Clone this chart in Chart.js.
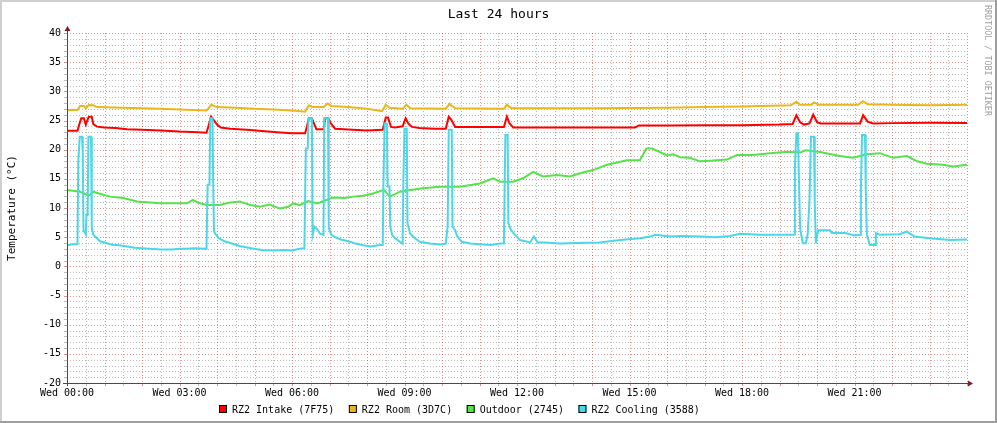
<!DOCTYPE html>
<html>
<head>
<meta charset="utf-8">
<title>Last 24 hours</title>
<script src="https://cdn.jsdelivr.net/npm/chart.js@4.4.1/dist/chart.umd.min.js"></script>
<style>
html, body { margin: 0; padding: 0; background: #fff; }
#wrap { width: 997px; height: 423px; }
</style>
</head>
<body>
<div id="wrap"><canvas id="temp_chart" width="997" height="423"></canvas></div>
<script>
// data: [hour of day, degC]
const chartTitle = 'Last 24 hours';
const yTitle = 'Temperature (°C)';
const seriesNames = ['RZ2 Intake (7F75)', 'RZ2 Room (3D7C)', 'Outdoor (2745)', 'RZ2 Cooling (3588)'];
const seriesColors = ['#FF0000', '#E9B71D', '#55E349', '#4BD7E7'];
const xTickHours = [0, 3, 6, 9, 12, 15, 18, 21];
const xTickLabels = ['Wed 00:00', 'Wed 03:00', 'Wed 06:00', 'Wed 09:00', 'Wed 12:00', 'Wed 15:00', 'Wed 18:00', 'Wed 21:00'];
const yMin = -20, yMax = 40;

const intakeData = [[0,23.25],[0.28,23.25],[0.32,24.2],[0.38,25.4],[0.45,25.4],[0.5,24.3],[0.58,25.65],[0.66,25.65],[0.7,24.4],[0.8,23.95],
  [1.0,23.8],[1.3,23.7],[1.6,23.5],[2.0,23.4],[2.5,23.3],[3.0,23.1],[3.5,23.0],[3.72,22.9],[3.78,24.2],[3.84,25.65],[3.9,25.2],[4.0,24.3],
  [4.1,23.8],[4.35,23.6],[4.8,23.4],[5.2,23.2],[5.6,23.0],[6.0,22.8],[6.35,22.8],[6.4,24.0],[6.45,25.4],[6.53,25.4],[6.58,24.6],[6.65,23.5],
  [6.85,23.5],[6.88,25.4],[6.97,25.4],[7.02,24.6],[7.15,23.6],[7.5,23.45],[8.0,23.3],[8.42,23.4],[8.5,25.5],[8.56,25.5],[8.64,23.9],[8.75,23.8],
  [8.95,24.0],[9.03,25.4],[9.1,24.5],[9.2,23.9],[9.4,23.7],[9.8,23.6],[10.1,23.6],[10.18,25.65],[10.24,25.2],[10.35,23.9],[10.6,23.9],[11.0,23.9],
  [11.5,23.9],[11.65,23.9],[11.73,25.65],[11.8,24.5],[11.9,23.8],[12.5,23.8],[13.5,23.8],[14.5,23.8],[15.15,23.8],[15.25,24.15],[16.0,24.15],
  [17.0,24.2],[18.0,24.2],[19.0,24.3],[19.35,24.4],[19.45,25.9],[19.55,24.7],[19.65,24.3],[19.8,24.5],[19.9,26.0],[20.0,24.7],[20.1,24.5],
  [21.0,24.5],[21.15,24.5],[21.23,25.9],[21.35,24.8],[21.5,24.5],[22.0,24.55],[23.0,24.6],[24.0,24.55]];

const roomData = [[0,26.8],[0.28,26.8],[0.35,27.5],[0.45,27.5],[0.5,27.1],[0.58,27.65],[0.7,27.6],[0.8,27.3],[1.5,27.2],[2.5,27.0],[3.0,26.9],
  [3.72,26.7],[3.85,27.7],[4.0,27.3],[4.5,27.2],[5.0,27.0],[5.5,26.9],[6.0,26.7],[6.35,26.5],[6.45,27.6],[6.55,27.3],[6.85,27.3],[6.95,27.9],
  [7.05,27.5],[7.5,27.3],[8.0,27.0],[8.4,26.6],[8.5,27.7],[8.6,27.2],[8.95,27.0],[9.05,27.7],[9.15,27.1],[10.1,27.0],[10.2,27.85],[10.35,27.1],
  [11.65,27.0],[11.73,27.7],[11.85,27.1],[13,27.1],[14,27.1],[16,27.2],[17,27.3],[18,27.4],[19.3,27.6],[19.45,28.2],[19.55,27.7],[19.85,27.7],
  [19.92,28.1],[20.05,27.7],[21.1,27.7],[21.22,28.3],[21.35,27.8],[22,27.7],[23,27.6],[24,27.7]];

const outdoorData = [[0,13.1],[0.35,12.8],[0.48,12.4],[0.6,12.2],[0.69,12.8],[0.85,12.5],[1.15,11.95],[1.5,11.7],[1.87,11.1],[2.48,10.8],
  [3.2,10.8],[3.36,11.4],[3.5,10.9],[3.73,10.5],[4.08,10.5],[4.3,10.9],[4.61,11.1],[4.9,10.5],[5.15,10.2],[5.4,10.6],[5.68,9.9],[5.9,10.2],
  [6.03,10.8],[6.2,10.5],[6.43,11.2],[6.67,10.8],[7.09,11.8],[7.4,11.7],[7.63,11.95],[7.9,12.1],[8.16,12.5],[8.45,13.1],[8.61,11.95],[8.88,12.8],
  [9.15,13.1],[9.49,13.4],[9.95,13.65],[10.48,13.65],[11.01,14.2],[11.36,15.1],[11.55,14.5],[11.89,14.5],[12.16,15.1],[12.43,16.2],[12.69,15.4],
  [13.07,15.65],[13.41,15.4],[13.68,15.95],[14.03,16.5],[14.4,17.4],[14.93,18.2],[15.28,18.2],[15.45,20.2],[15.6,20.2],[15.81,19.6],[16.0,19.0],
  [16.16,19.2],[16.35,18.7],[16.61,18.6],[16.88,18.0],[17.15,18.1],[17.6,18.3],[17.87,19.1],[18.29,19.1],[18.75,19.4],[19.2,19.65],[19.55,19.5],
  [19.7,19.9],[20.08,19.6],[20.61,18.9],[20.96,18.6],[21.33,19.2],[21.68,19.4],[22.03,18.6],[22.4,18.9],[22.67,18.0],[22.93,17.6],[23.36,17.4],
  [23.63,17.1],[24,17.4]];

const coolingData = [[0,3.6],[0.15,3.8],[0.28,3.8],[0.3,18.0],[0.34,22.2],[0.4,22.2],[0.42,19.4],[0.44,6.2],[0.5,5.5],[0.52,8.8],[0.55,8.8],
  [0.57,22.2],[0.64,22.2],[0.66,6.6],[0.7,5.4],[0.8,4.8],[0.88,4.3],[1.05,4.0],[1.2,3.7],[1.4,3.6],[1.6,3.4],[1.8,3.2],[2.0,3.1],[2.2,3.0],
  [2.5,2.9],[2.8,2.9],[3.0,3.0],[3.2,3.0],[3.4,3.1],[3.72,3.0],[3.75,14],[3.8,14],[3.82,25.4],[3.88,25.4],[3.9,14],[3.92,6.0],[3.95,5.6],
  [4.05,4.8],[4.2,4.3],[4.35,4.0],[4.6,3.5],[4.9,3.1],[5.2,2.8],[5.5,2.7],[5.8,2.8],[6.0,2.7],[6.2,3.0],[6.33,3.1],[6.37,20.2],[6.42,20.2],
  [6.44,25.4],[6.53,25.4],[6.55,5.4],[6.6,6.8],[6.68,6.3],[6.75,5.6],[6.84,5.4],[6.86,25.4],[6.96,25.4],[6.98,6.6],[7.05,5.4],[7.15,5.0],
  [7.3,4.6],[7.5,4.3],[7.7,3.9],[7.9,3.6],[8.1,3.4],[8.3,3.6],[8.42,3.7],[8.44,15],[8.47,24.5],[8.53,24.5],[8.55,13.7],[8.6,13.7],[8.62,6.8],
  [8.67,5.4],[8.75,4.8],[8.88,4.2],[8.95,3.9],[8.97,14.9],[9.0,23.6],[9.06,23.6],[9.08,7.4],[9.15,5.6],[9.28,4.8],[9.41,4.2],[9.68,3.9],
  [9.95,3.75],[10.1,3.9],[10.15,6.8],[10.18,23.4],[10.26,23.4],[10.28,6.8],[10.35,6.2],[10.4,5.2],[10.53,4.2],[10.75,3.9],[11.0,3.8],[11.3,3.65],
  [11.55,3.9],[11.65,3.9],[11.67,13.5],[11.69,22.5],[11.75,22.5],[11.77,7.4],[11.84,6.2],[11.95,5.4],[12.08,4.5],[12.35,4.1],[12.45,5.1],
  [12.55,4.1],[12.75,4.1],[13.15,3.9],[13.6,4.0],[14.2,4.1],[14.75,4.5],[15.28,4.8],[15.55,5.1],[15.68,5.4],[16.08,5.1],[16.35,5.2],[16.88,5.1],
  [17.3,5.0],[17.68,5.2],[17.95,5.6],[18.48,5.4],[19.0,5.4],[19.4,5.4],[19.41,17.1],[19.45,22.8],[19.49,22.8],[19.51,17.1],[19.55,6.5],
  [19.62,3.95],[19.7,3.95],[19.75,5.4],[19.8,11.4],[19.84,22.2],[19.92,22.2],[19.94,11],[19.97,3.95],[20.03,6.2],[20.35,6.2],[20.4,5.7],
  [20.75,5.7],[21.0,5.3],[21.15,5.4],[21.17,13.1],[21.2,22.5],[21.28,22.5],[21.3,13.1],[21.33,5.4],[21.41,3.65],[21.55,3.65],[21.57,5.7],
  [21.68,5.4],[22.2,5.5],[22.4,5.95],[22.6,5.1],[23.0,4.8],[23.55,4.5],[24,4.6]];

document.addEventListener('DOMContentLoaded', function() {

var MONO = '"DejaVu Sans Mono", monospace';

function toPoints(arr) {
  return arr.map(function(p) { return { x: p[0], y: p[1] }; });
}

// rrdtool look: frame, dotted grid, arrows, title, legend, watermark
var rrdLook = {
  id: 'rrdLook',
  beforeDraw: function(chart) {
    var ctx = chart.ctx, w = chart.width, h = chart.height;
    ctx.save();
    ctx.fillStyle = '#ffffff';
    ctx.fillRect(0, 0, w, h);
    ctx.fillStyle = '#CFCFCF';
    ctx.fillRect(0, 0, w, 2);
    ctx.fillRect(0, 0, 2, h);
    ctx.fillStyle = '#9E9E9E';
    ctx.fillRect(0, h - 2, w, 2);
    ctx.fillRect(w - 2, 0, 2, h);
    ctx.restore();
  },
  beforeDatasetsDraw: function(chart) {
    var ctx = chart.ctx, a = chart.chartArea;
    var xs = chart.scales.x, ys = chart.scales.y;
    var minor = 'rgba(130,130,130,0.55)', major = 'rgba(180,40,40,0.5)';
    ctx.save();
    ctx.lineWidth = 1;
    ctx.setLineDash([1, 2]);
    // minor first then major
    [false, true].forEach(function(isMajor) {
      ctx.strokeStyle = isMajor ? major : minor;
      ctx.beginPath();
      for (var v = yMin; v <= yMax; v++) {
        if ((v % 5 === 0) !== isMajor) continue;
        var y = Math.round(ys.getPixelForValue(v)) + 0.5;
        ctx.moveTo(a.left, y); ctx.lineTo(a.right, y);
      }
      for (var hh = 0.5; hh <= 24; hh += 0.5) {
        if ((hh % 1 === 0) !== isMajor) continue;
        var x = Math.round(xs.getPixelForValue(hh)) + 0.5;
        ctx.moveTo(x, a.top); ctx.lineTo(x, a.bottom);
      }
      ctx.stroke();
    });
    ctx.setLineDash([]);
    // small ticks on the axes
    for (var t = 0.5; t <= 24; t += 0.5) {
      var tx = Math.round(xs.getPixelForValue(t)) + 0.5;
      ctx.strokeStyle = (t % 1 === 0) ? major : minor;
      ctx.beginPath(); ctx.moveTo(tx, a.bottom); ctx.lineTo(tx, a.bottom + 3); ctx.stroke();
    }
    for (var k = yMin; k <= yMax; k++) {
      var ty = Math.round(ys.getPixelForValue(k)) + 0.5;
      ctx.strokeStyle = (k % 5 === 0) ? major : minor;
      ctx.beginPath(); ctx.moveTo(a.left - 3, ty); ctx.lineTo(a.left, ty); ctx.stroke();
    }
    ctx.restore();
  },
  afterDatasetsDraw: function(chart) {
    var ctx = chart.ctx, a = chart.chartArea;
    var x0 = Math.round(a.left) + 0.5, y0 = Math.round(a.bottom) + 0.5;
    ctx.save();
    ctx.strokeStyle = '#4a4a4a';
    ctx.lineWidth = 1;
    ctx.beginPath();
    ctx.moveTo(x0, a.bottom + 3); ctx.lineTo(x0, a.top - 3);
    ctx.moveTo(a.left - 4, y0); ctx.lineTo(a.right + 2, y0);
    ctx.stroke();
    ctx.fillStyle = '#7F1F1F';
    ctx.beginPath();
    ctx.moveTo(x0 - 3, a.top - 2); ctx.lineTo(x0 + 3, a.top - 2); ctx.lineTo(x0, a.top - 7); ctx.closePath();
    ctx.fill();
    ctx.beginPath();
    ctx.moveTo(a.right + 1, y0 - 3); ctx.lineTo(a.right + 1, y0 + 3); ctx.lineTo(a.right + 6, y0); ctx.closePath();
    ctx.fill();
    ctx.restore();
  },
  afterDraw: function(chart) {
    var ctx = chart.ctx, a = chart.chartArea;
    ctx.save();
    ctx.fillStyle = '#000';
    // title
    ctx.font = '13px ' + MONO;
    ctx.textAlign = 'center';
    ctx.textBaseline = 'alphabetic';
    ctx.fillText(chartTitle, chart.width / 2, 18);
    // y axis title
    ctx.save();
    ctx.font = '11px ' + MONO;
    ctx.translate(15, (a.top + a.bottom) / 2);
    ctx.rotate(-Math.PI / 2);
    ctx.fillText(yTitle, 0, 0);
    ctx.restore();
    // watermark
    ctx.save();
    ctx.font = '8.4px ' + MONO;
    ctx.fillStyle = '#A0A0A0';
    ctx.textAlign = 'left';
    ctx.translate(985, 5);
    ctx.rotate(Math.PI / 2);
    ctx.fillText('RRDTOOL / TOBI OETIKER', 0, 0);
    ctx.restore();
    // legend
    ctx.font = '10px ' + MONO;
    ctx.textAlign = 'left';
    var lx = 219, ly = 405;
    for (var i = 0; i < seriesNames.length; i++) {
      ctx.fillStyle = seriesColors[i];
      ctx.fillRect(lx, ly, 8, 8);
      ctx.strokeStyle = '#000';
      ctx.lineWidth = 1;
      ctx.strokeRect(lx + 0.5, ly + 0.5, 7, 7);
      ctx.fillStyle = '#000';
      ctx.fillText(seriesNames[i], lx + 13, ly + 8);
      lx += 13 + ctx.measureText(seriesNames[i]).width + 14.5;
    }
    ctx.restore();
  }
};

var allData = [intakeData, roomData, outdoorData, coolingData];
var datasets = allData.map(function(d, i) {
  return {
    label: seriesNames[i],
    data: toPoints(d),
    borderColor: seriesColors[i],
    backgroundColor: seriesColors[i],
    borderWidth: 2,
    pointRadius: 0,
    tension: 0,
    fill: false,
    order: 4 - i   // cooling painted last like rrdtool
  };
});

var target = document.getElementById('temp_chart');
new Chart(target, {
  type: 'line',
  data: { datasets: datasets },
  options: {
    responsive: false,
    animation: false,
    devicePixelRatio: 1,
    layout: { padding: { left: 0, right: 30, top: 33, bottom: 0 } },
    plugins: {
      legend: { display: false },
      title: { display: false },
      tooltip: { enabled: false }
    },
    scales: {
      x: {
        type: 'linear',
        min: 0,
        max: 24,
        afterBuildTicks: function(scale) {
          scale.ticks = xTickHours.map(function(v) { return { value: v }; });
        },
        afterFit: function(scale) { scale.height = 40; },
        grid: { display: false, drawTicks: false },
        border: { display: false },
        ticks: {
          autoSkip: false,
          maxRotation: 0,
          padding: 4,
          color: '#000',
          font: { family: MONO, size: 10 },
          callback: function(v) {
            var idx = xTickHours.indexOf(v);
            return idx >= 0 ? xTickLabels[idx] : '';
          }
        }
      },
      y: {
        min: yMin,
        max: yMax,
        afterFit: function(scale) { scale.width = 67; },
        grid: { display: false, drawTicks: false },
        border: { display: false },
        ticks: {
          stepSize: 5,
          padding: 6,
          color: '#000',
          font: { family: MONO, size: 10 }
        }
      }
    }
  },
  plugins: [rrdLook]
});

});
</script>
</body>
</html>
